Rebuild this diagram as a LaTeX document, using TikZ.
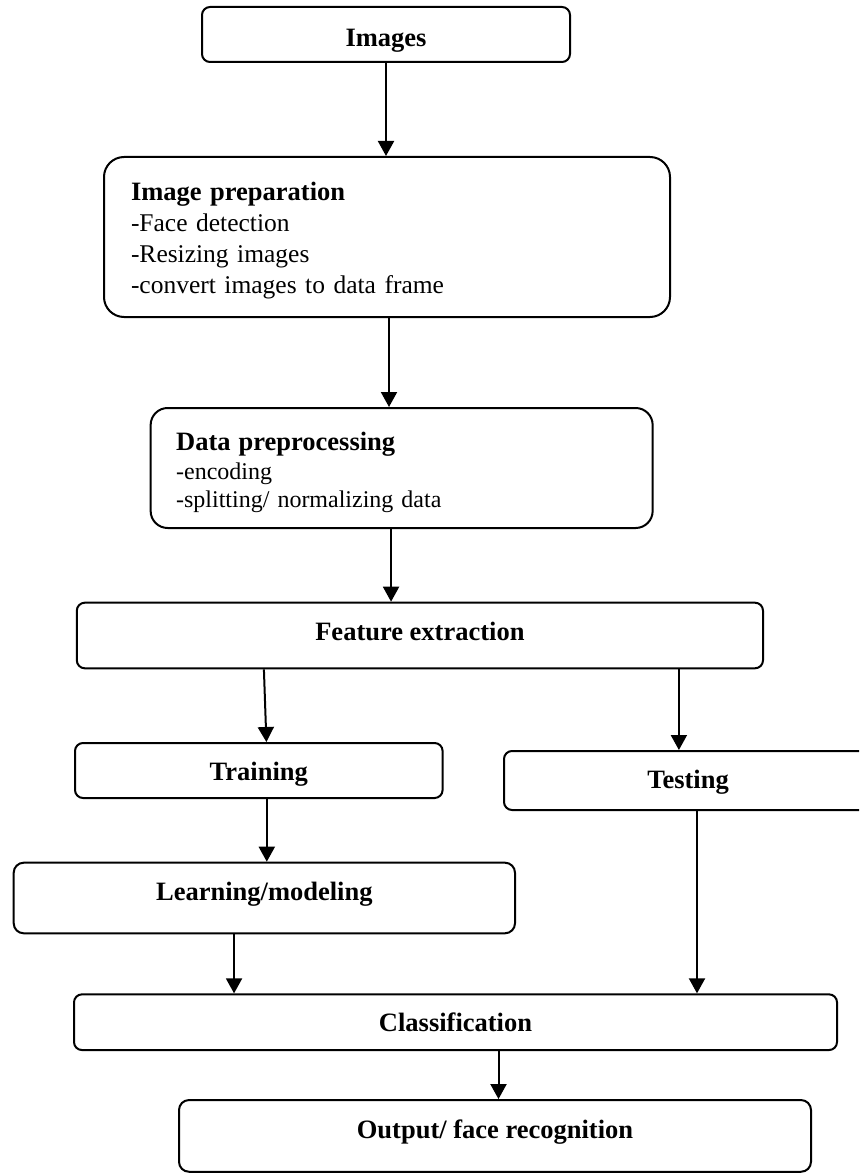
\documentclass[tikz,border=0pt]{standalone}
\usepackage{fontspec}
\setmainfont{Liberation Serif}
\usetikzlibrary{arrows.meta}
\begin{document}
\begin{tikzpicture}[x=1pt,y=-1pt,
  box/.style={draw, line width=2pt, rounded corners=8pt, inner sep=0pt,
    font=\fontsize{26.5}{31}\selectfont\bfseries},
  txtbox/.style={draw, line width=2pt, inner sep=0pt, align=left},
  arr/.style={line width=2pt, -{Triangle[width=16pt,length=15pt]}}]
\clip (0,0) rectangle (859,1174);
\node[box, minimum width=368pt, minimum height=55pt, text height=24.2pt, text depth=0pt] (img) at (386,34.5) {Images};
\node[txtbox, rounded corners=20pt, minimum width=566pt, minimum height=160pt, text width=512pt,
  font=\fontsize{25.5}{31}\selectfont] (prep) at (387,237)
  {\rule{0pt}{25pt}{\fontsize{26.5}{31}\selectfont\bfseries Image preparation}\\-Face detection\\-Resizing images\\-convert images to data frame};
\node[txtbox, rounded corners=17pt, minimum width=502pt, minimum height=120pt, text width=451pt,
  font=\fontsize{24}{28.5}\selectfont] (data) at (401.65,468)
  {\rule{0pt}{28pt}{\fontsize{26.5}{29}\selectfont\bfseries Data preprocessing}\\-encoding\\-splitting/ normalizing data};
\node[box, minimum width=686.2pt, minimum height=65.6pt, text height=17.2pt, text depth=6.8pt] (feat) at (419.9,635.5) {Feature extraction};
\node[box, minimum width=367.6pt, minimum height=55pt, text height=22.2pt, text depth=1.8pt] (train) at (258.8,770.5) {Training};
\node[box, minimum width=368pt, minimum height=59pt, text height=19.8pt, text depth=4.2pt] (test) at (688,780.5) {Testing};
\node[box, rounded corners=10pt, minimum width=501.3pt, minimum height=70.6pt, text height=14.7pt, text depth=9.3pt] (learn) at (264.35,898) {Learning/modeling};
\node[box, minimum width=763pt, minimum height=55.7pt, text height=21.5pt, text depth=2.5pt] (class) at (455.5,1022.2) {Classification};
\node[box, rounded corners=10pt, minimum width=632pt, minimum height=71.7pt, text height=14.4pt, text depth=9.6pt] (out) at (495,1135.9) {Output/ face recognition};
\draw[arr] (img.south) -- (img.south |- prep.north);
\draw[arr] ([xshift=2pt]prep.south) -- ([xshift=2pt]prep.south |- data.north);
\draw[arr] ([xshift=-10.6pt]data.south) -- ([xshift=-10.6pt]data.south |- feat.north);
\draw[arr] ([xshift=-156pt]feat.south) -- ([xshift=7.6pt]train.north);
\draw[arr] ([xshift=259pt]feat.south) -- ([xshift=259pt]feat.south |- test.north);
\draw[arr] ([xshift=8pt]train.south) -- ([xshift=8pt]train.south |- learn.north);
\draw[arr] ([xshift=-30.3pt]learn.south) -- ([xshift=-30.3pt]learn.south |- class.north);
\draw[arr] ([xshift=9pt]test.south) -- ([xshift=9pt]test.south |- class.north);
\draw[arr] ([xshift=43pt]class.south) -- ([xshift=43pt]class.south |- out.north);
\end{tikzpicture}
\end{document}
